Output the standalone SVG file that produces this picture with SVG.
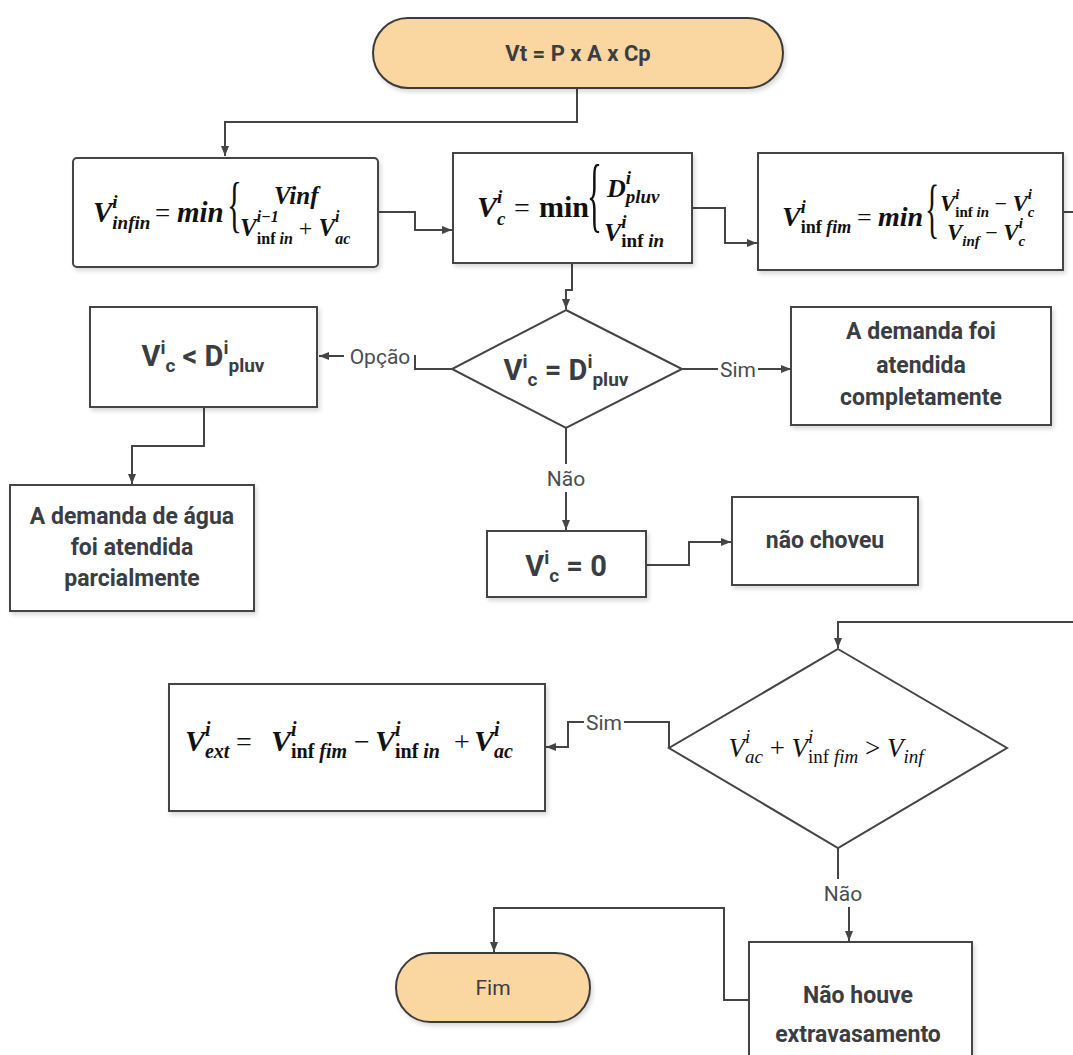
<svg xmlns="http://www.w3.org/2000/svg" width="1073" height="1055" viewBox="0 0 1073 1055">
<style>
.box{fill:#fff;stroke:#444;stroke-width:2}
.term{fill:#FAD6A0;stroke:#3b3b3b;stroke-width:2}
.ln{fill:none;stroke:#454545;stroke-width:2}
.t{font-family:Roboto,"Liberation Sans",sans-serif;font-weight:bold;fill:#3a3d42;text-anchor:middle}
.lab{font-family:Roboto,"Liberation Sans",sans-serif;font-size:21px;fill:#4a4d52;text-anchor:middle}
.m{font-family:"Liberation Serif",serif;font-weight:bold;font-style:italic;fill:#111}
.mu{font-family:"Liberation Serif",serif;font-weight:bold;font-style:normal;fill:#111}
.mr{font-family:"Liberation Serif",serif;font-weight:normal;font-style:normal;fill:#111}
.mi{font-family:"Liberation Serif",serif;font-weight:normal;font-style:italic;fill:#111}
.bg{fill:#fff}
</style>
<defs>
<marker id="ah" viewBox="0 0 10 10" refX="10" refY="5" markerWidth="10" markerHeight="10" markerUnits="userSpaceOnUse" orient="auto">
<path d="M0,1 L10,5 L0,9 z" fill="#454545"/>
</marker>
<filter id="sh" x="-10%" y="-10%" width="125%" height="130%">
<feDropShadow dx="2" dy="3" stdDeviation="2" flood-color="#000" flood-opacity="0.15"/>
</filter>
</defs>

<g id="connectors">
<path class="ln" d="M577,88 V122 H225 V156" marker-end="url(#ah)"/>
<path class="ln" d="M378,212 H415 V230 H452" marker-end="url(#ah)"/>
<path class="ln" d="M692,208 H725 V243 H757" marker-end="url(#ah)"/>
<path class="ln" d="M1063,212 H1073"/>
<path class="ln" d="M1073,622 H838 V648" marker-end="url(#ah)"/>
<path class="ln" d="M572,263 V290 H566 V309" marker-end="url(#ah)"/>
<path class="ln" d="M452,369 H415 V356 H319" marker-end="url(#ah)"/>
<rect class="bg" x="344" y="343" width="70" height="25"/>
<text class="lab" x="380" y="364">Opção</text>
<path class="ln" d="M682,369 H791" marker-end="url(#ah)"/>
<rect class="bg" x="718" y="357" width="40" height="24"/>
<text class="lab" x="738" y="377">Sim</text>
<path class="ln" d="M204,407 V446 H132 V484" marker-end="url(#ah)"/>
<path class="ln" d="M566,428 V530" marker-end="url(#ah)"/>
<rect class="bg" x="544" y="464" width="44" height="28"/>
<text class="lab" x="566" y="486">Não</text>
<path class="ln" d="M646,565 H689 V542 H731" marker-end="url(#ah)"/>
<path class="ln" d="M669,748 V722 H568 V747 H546" marker-end="url(#ah)"/>
<rect class="bg" x="584" y="710" width="40" height="24"/>
<text class="lab" x="604" y="730">Sim</text>
<path class="ln" d="M838,848 V893 H849 V941" marker-end="url(#ah)"/>
<rect class="bg" x="821" y="879" width="44" height="28"/>
<text class="lab" x="843" y="901">Não</text>
<path class="ln" d="M749,1000 H724 V908 H494 V952" marker-end="url(#ah)"/>
</g>

<g id="start">
<rect class="term" x="373" y="18" width="410" height="70" rx="35" filter="url(#sh)"/>
<text class="t" x="578" y="61" font-size="22">Vt = P x A x Cp</text>
</g>

<g id="box-vinfin">
<rect class="box" x="73" y="158" width="305" height="109" rx="4" filter="url(#sh)"/>
<text class="m" x="93" y="222" font-size="29">V<tspan font-size="19" dy="-14">i</tspan><tspan font-size="19" dx="-5.3" dy="21">infin</tspan></text>
<text class="mr" font-size="27" x="155" y="222">=</text>
<text class="m" font-size="29" x="177" y="222">min</text>
<text class="mr" font-size="62" transform="translate(227,225) scale(0.5,1)">{</text>
<text class="m" font-size="25" x="274" y="204">Vinf</text>
<text class="m" x="240" y="236" font-size="25">V<tspan font-size="16" dy="-14">i−1</tspan><tspan font-size="16" dx="-22" dy="22" class="mu">inf</tspan><tspan font-size="16" class="m"> in</tspan><tspan class="mr" dy="-8" font-size="24"> + </tspan><tspan class="m">V</tspan><tspan font-size="16" dy="-14">i</tspan><tspan font-size="16" dx="-4.4" dy="22">ac</tspan></text>
</g>

<g id="box-vc">
<rect class="box" x="453" y="153" width="239" height="110" filter="url(#sh)"/>
<text class="m" x="477" y="217" font-size="30">V<tspan font-size="19" dy="-14">i</tspan><tspan font-size="19" dx="-5.3" dy="22">c</tspan></text>
<text class="mr" font-size="28" x="514" y="217">=</text>
<text class="mu" font-size="30" x="539" y="217">min</text>
<text class="mr" font-size="82" transform="translate(587,222) scale(0.38,1)">{</text>
<text class="m" x="607" y="197" font-size="26">D<tspan font-size="19" dy="-13">i</tspan><tspan font-size="19" dx="-5.3" dy="19">pluv</tspan></text>
<text class="m" x="604" y="241" font-size="26">V<tspan font-size="19" dy="-13">i</tspan><tspan font-size="19" dx="-5.3" dy="19" class="mu">inf</tspan><tspan font-size="19" class="m"> in</tspan></text>
</g>

<g id="box-vinffim">
<rect class="box" x="758" y="153" width="305" height="117" filter="url(#sh)"/>
<text class="m" x="782" y="226" font-size="28">V<tspan font-size="18" dy="-13">i</tspan><tspan font-size="18" dx="-5" dy="20" class="mu">inf</tspan><tspan font-size="18" class="m"> fim</tspan></text>
<text class="mr" font-size="26" x="857" y="226">=</text>
<text class="m" font-size="28" x="878" y="226">min</text>
<text class="mr" font-size="66" transform="translate(925,230) scale(0.45,1)">{</text>
<text class="m" x="940" y="211" font-size="23">V<tspan font-size="15" dy="-12">i</tspan><tspan font-size="15" dx="-4.2" dy="18" class="mu">inf</tspan><tspan font-size="15" class="m"> in</tspan><tspan class="mr" font-size="22" dy="-6"> − </tspan><tspan class="m">V</tspan><tspan font-size="15" dy="-12">i</tspan><tspan font-size="15" dx="-4.2" dy="18">c</tspan></text>
<text class="m" x="947" y="240" font-size="23">V<tspan font-size="15" dy="6">inf</tspan><tspan class="mr" font-size="22" dy="-6"> − </tspan><tspan class="m">V</tspan><tspan font-size="15" dy="-12">i</tspan><tspan font-size="15" dx="-4.2" dy="18">c</tspan></text>
</g>

<g id="decision-vc-dpluv">
<polygon class="box" points="566,310 682,369 566,428 452,369"/>
<text class="t" x="566" y="380" font-size="29">V<tspan dy="-12" font-size="19">i</tspan><tspan dy="18" font-size="19">c</tspan><tspan dy="-6"> = D</tspan><tspan dy="-12" font-size="19">i</tspan><tspan dy="18" font-size="19">pluv</tspan></text>
</g>

<g id="box-vc-less">
<rect class="box" x="90" y="307" width="227" height="100" filter="url(#sh)"/>
<text class="t" x="203" y="366" font-size="29">V<tspan dy="-12" font-size="19">i</tspan><tspan dy="18" font-size="19">c</tspan><tspan dy="-6"> &lt; D</tspan><tspan dy="-12" font-size="19">i</tspan><tspan dy="18" font-size="19">pluv</tspan></text>
</g>

<g id="box-completa">
<rect class="box" x="791" y="307" width="260" height="118" filter="url(#sh)"/>
<text class="t" font-size="23"><tspan x="921" y="339">A demanda foi</tspan><tspan x="921" y="373">atendida</tspan><tspan x="921" y="405">completamente</tspan></text>
</g>

<g id="box-parcial">
<rect class="box" x="10" y="485" width="244" height="126" filter="url(#sh)"/>
<text class="t" font-size="23"><tspan x="132" y="524">A demanda de água</tspan><tspan x="132" y="555">foi atendida</tspan><tspan x="132" y="586">parcialmente</tspan></text>
</g>

<g id="box-vc-zero">
<rect class="box" x="487" y="531" width="159" height="66" filter="url(#sh)"/>
<text class="t" x="566" y="576" font-size="29">V<tspan dy="-12" font-size="19">i</tspan><tspan dy="18" font-size="19">c</tspan><tspan dy="-6"> = 0</tspan></text>
</g>

<g id="box-nao-choveu">
<rect class="box" x="732" y="497" width="186" height="88" filter="url(#sh)"/>
<text class="t" x="825" y="548" font-size="23">não choveu</text>
</g>

<g id="decision-extravasa">
<polygon class="box" points="838,649 1007,748 838,848 669,748"/>
<text class="mi" x="826" y="757" font-size="27" text-anchor="middle">V<tspan font-size="19" dy="-14">i</tspan><tspan font-size="19" dx="-5.3" dy="20">ac</tspan><tspan class="mr" dy="-6"> + </tspan>V<tspan font-size="19" dy="-14">i</tspan><tspan font-size="19" dx="-5.3" dy="20" class="mr">inf</tspan><tspan font-size="19" class="mi"> fim</tspan><tspan class="mr" dy="-6"> &gt; </tspan>V<tspan font-size="19" dy="6">inf</tspan></text>
</g>

<g id="box-vext">
<rect class="box" x="169" y="684" width="376" height="127" filter="url(#sh)"/>
<text class="m" x="185" y="751" font-size="30">V<tspan font-size="20" dy="-15">i</tspan><tspan font-size="20" dx="-5.6" dy="22">ext</tspan></text>
<text class="mr" font-size="28" x="236" y="751">=</text>
<text class="m" x="271" y="751" font-size="30">V<tspan font-size="20" dy="-15">i</tspan><tspan font-size="20" dx="-5.6" dy="22" class="mu">inf</tspan><tspan font-size="20" class="m"> fim</tspan></text>
<text class="mr" font-size="28" x="354" y="751">−</text>
<text class="m" x="375" y="751" font-size="30">V<tspan font-size="20" dy="-15">i</tspan><tspan font-size="20" dx="-5.6" dy="22" class="mu">inf</tspan><tspan font-size="20" class="m"> in</tspan></text>
<text class="mr" font-size="28" x="454" y="751">+</text>
<text class="m" x="474" y="751" font-size="30">V<tspan font-size="20" dy="-15">i</tspan><tspan font-size="20" dx="-5.6" dy="22">ac</tspan></text>
</g>

<g id="box-nao-houve">
<rect class="box" x="749" y="942" width="223" height="130" filter="url(#sh)"/>
<text class="t" font-size="23"><tspan x="858" y="1003">Não houve</tspan><tspan x="858" y="1042">extravasamento</tspan></text>
</g>

<g id="end">
<rect class="term" x="396" y="953" width="194" height="69" rx="34.5" filter="url(#sh)"/>
<text x="493" y="995" font-family="Roboto,'Liberation Sans',sans-serif" font-size="21" fill="#3a3d42" text-anchor="middle">Fim</text>
</g>
</svg>
